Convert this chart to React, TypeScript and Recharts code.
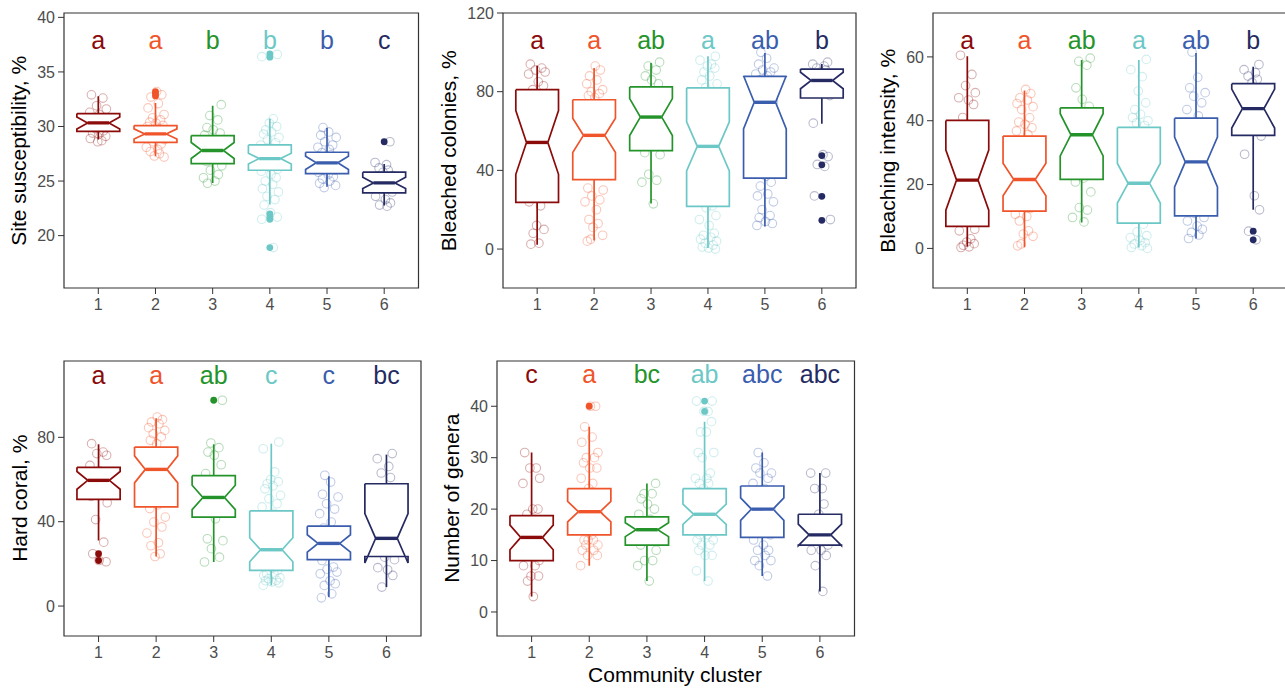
import React from 'react';
import { ComposedChart, Scatter, XAxis, YAxis, ReferenceArea } from 'recharts';

const CLUSTERS = [1, 2, 3, 4, 5, 6];
const COLORS = ['#8B0A0A', '#F0542A', '#24932A', '#6CC8C6', '#3A5DAE', '#252B62'];

// box stats per cluster: [lower whisker, q1, notch low, median, notch high, q3, upper whisker]
const susBox = [
  [28.8, 29.56, 29.78, 30.33, 30.88, 31.18, 32.77],
  [27.27, 28.55, 28.86, 29.32, 29.78, 30.08, 32.16],
  [24.83, 26.6, 27.07, 27.8, 28.53, 29.17, 31.9],
  [22.85, 25.99, 26.57, 27.06, 27.55, 28.31, 30.7],
  [24.47, 25.69, 26.06, 26.67, 27.28, 27.64, 29.87],
  [22.76, 23.92, 24.31, 24.83, 25.35, 25.81, 26.57],
];
const susPoints = [
  [32.9, 32.6, 31.9, 31.6, 31.3, 31.1, 30.8, 30.6, 30.4, 30.2, 30.0, 29.8, 29.6, 29.4, 29.3, 29.1, 28.9, 28.7, 28.6, 30.5],
  [33.2, 32.9, 32.7, 32.1, 31.7, 31.1, 30.8, 30.6, 30.4, 30.3, 30.1, 30.0, 29.8, 29.6, 29.5, 29.3, 29.2, 29.0, 28.8, 28.6, 28.4, 28.1, 27.9, 27.7, 27.5, 27.3, 27.2],
  [32.0, 31.0, 30.6, 29.9, 29.7, 29.4, 29.2, 28.8, 28.4, 28.0, 27.6, 27.2, 26.8, 26.4, 26.0, 25.6, 25.3, 25.0, 24.8],
  [36.6, 36.4, 30.7, 30.3, 30.0, 29.7, 29.5, 29.3, 29.0, 28.8, 28.5, 28.3, 28.0, 27.8, 27.6, 27.4, 27.2, 27.0, 26.8, 26.6, 26.3, 26.1, 25.9, 25.6, 25.3, 25.0, 24.7, 24.3, 24.0, 23.6, 23.3, 22.8, 22.1, 21.7, 21.5, 18.9],
  [29.9, 29.5, 29.2, 29.0, 28.6, 28.3, 28.1, 27.9, 27.6, 27.4, 27.2, 27.0, 26.8, 26.6, 26.4, 26.2, 26.0, 25.8, 25.6, 25.4, 25.2, 25.0, 24.8, 24.6, 24.4],
  [28.6, 26.7, 26.5, 26.2, 26.0, 25.8, 25.5, 25.2, 24.9, 24.6, 24.3, 24.0, 23.6, 23.3, 23.0, 22.8, 22.7],
];
const susOutliers = [[], [33.2, 33.0, 32.8], [], [36.65, 36.35, 22.0, 21.7, 21.5, 18.9], [], [28.6]];
const susLetters = ['a', 'a', 'b', 'b', 'b', 'c'];

const bcBox = [
  [2.2, 23.7, 38.0, 54.2, 70.4, 81.0, 93.2],
  [4.4, 35.3, 49.1, 57.8, 66.5, 75.9, 92.0],
  [23.1, 50.0, 57.7, 67.1, 76.5, 82.4, 94.6],
  [0.5, 21.7, 39.7, 52.2, 64.7, 81.9, 98.0],
  [11.5, 36.1, 61.1, 74.6, 88.1, 87.8, 99.7],
  [63.7, 76.8, 81.5, 85.7, 89.9, 91.5, 94.1],
];
const bcPoints = [
  [94, 92, 91, 90, 89, 85, 83, 81, 75, 68, 60, 54, 47, 40, 33, 26, 24, 22, 12, 10, 8, 3, 2.5],
  [93, 91, 88, 86, 84, 81, 80, 79, 78, 77, 72, 66, 60, 55, 50, 44, 38, 31, 30, 27, 25, 24, 20, 15, 13, 11, 7, 5, 4],
  [95, 93, 91, 88, 86, 84, 80, 74, 68, 62, 56, 52, 49, 48, 38, 35, 34, 23],
  [98, 96, 94, 93, 92, 90, 88, 86, 84, 82, 76, 70, 64, 58, 52, 46, 40, 34, 28, 22, 21, 17, 15, 12, 8, 7, 6, 5, 4, 3, 2, 1, 0.5, 0],
  [100, 97, 94, 92, 91, 90, 89, 88, 86, 83, 79, 75, 71, 66, 60, 54, 48, 42, 37, 34, 32, 28, 27, 24, 20, 17, 16, 14, 13, 12],
  [95, 94, 93, 92, 91, 90, 88, 86, 84, 82, 80, 78, 64, 48, 47, 43, 42, 27, 15],
];
const bcOutliers = [[], [], [], [], [], [47.5, 42.8, 26.8, 14.6]];
const bcLetters = ['a', 'a', 'ab', 'a', 'ab', 'b'];

const biBox = [
  [0.6, 6.9, 12.0, 21.4, 30.8, 40.1, 60.2],
  [0.4, 11.7, 16.5, 21.6, 26.7, 35.2, 49.5],
  [8.1, 21.6, 29.0, 35.6, 42.2, 44.0, 59.0],
  [0.3, 7.9, 14.2, 20.4, 26.6, 37.9, 59.0],
  [3.1, 10.2, 19.3, 27.1, 34.9, 40.8, 61.2],
  [12.1, 35.4, 37.7, 43.8, 49.9, 51.6, 56.9],
];
const biPoints = [
  [60.5, 54.5, 51, 48.8, 47.2, 46.5, 45.1, 41, 36, 30, 25, 21, 17, 13, 9, 6, 5.5, 3, 2, 1.5, 1, 0.5, 0.3],
  [49.8, 48.5, 47.2, 46.5, 45.4, 44.4, 43.5, 40.9, 39.6, 38.9, 37.8, 36.8, 35.7, 33, 30, 27, 24, 21, 18, 15, 12.5, 10.7, 10, 8.6, 5.5, 4.5, 3.8, 1.4, 0.8],
  [59.6, 58.6, 57.4, 50.3, 46.7, 44.5, 42, 38, 34, 30, 26, 22, 20.8, 17.7, 12.8, 12, 9.7, 8.3],
  [59.2, 56, 53.8, 49.3, 45.6, 43.5, 42, 41, 40, 39.3, 38.5, 35, 32, 28, 24, 20, 16, 12, 9, 7.6, 5.2, 4, 3.4, 2.5, 1.8, 1.4, 0.8, 0.3, 0],
  [61.5, 53.6, 50.3, 48.8, 47.7, 45.6, 43.5, 41.5, 38, 34, 30, 26, 22, 18, 14, 11, 9.7, 8.6, 7, 6, 5, 4.2, 3.1],
  [57.6, 56, 55, 54, 53, 52, 50, 47, 44, 40, 37, 35.2, 29.5, 16.5, 12.1, 5.4, 2.7],
];
const biOutliers = [[], [], [], [], [], [5.4, 2.7]];
const biLetters = ['a', 'a', 'ab', 'a', 'ab', 'b'];

const hcBox = [
  [31.1, 50.6, 55.4, 59.6, 63.8, 65.8, 76.7],
  [23.5, 47.0, 58.4, 64.8, 71.2, 75.4, 89.0],
  [20.9, 42.2, 45.7, 51.5, 57.3, 61.8, 76.7],
  [9.8, 16.9, 21.0, 26.7, 32.4, 45.1, 77.0],
  [4.3, 22.0, 25.6, 29.7, 33.8, 37.9, 61.5],
  [9.0, 23.5, 20.4, 32.1, 43.8, 58.0, 71.8],
];
const hcPoints = [
  [77, 73, 72.3, 71.5, 66.7, 64, 61, 58, 55, 52, 49, 41, 30.3, 24.8, 21.6, 21],
  [89.6, 88.4, 87.3, 86.5, 84.6, 83.3, 81.7, 80.2, 78.6, 77, 72, 68, 64, 60, 56, 52, 48, 46.2, 42.2, 39.8, 37.5, 34.6, 30, 28.6, 24.8, 23.5],
  [97.6, 77.3, 75.1, 73, 71.5, 67, 62.8, 58, 54, 50, 46, 41.4, 31.9, 31, 27.2, 23.2, 20.9],
  [77.8, 74.6, 63.6, 60, 59, 58, 57, 55.6, 52.5, 50.9, 48.5, 47, 44, 42, 40, 38, 34, 30, 28, 26, 24, 22, 20, 18, 16.9, 15.3, 15, 14.5, 13.4, 13, 12.2, 12, 11.4, 11, 9.8],
  [62, 58.8, 53, 51.7, 48.5, 46, 43.8, 39.8, 37, 34, 30, 27, 24, 21.6, 18.5, 17.5, 16.1, 15.3, 12, 10.6, 9.8, 5.8, 3.9],
  [72.3, 69.9, 66.2, 63.1, 60.9, 55, 48, 40, 33, 27, 23.2, 22, 18.2, 17.2, 14.5, 9],
];
const hcOutliers = [[24.8, 21.6], [], [97.6], [], [], []];
const hcLetters = ['a', 'a', 'ab', 'c', 'c', 'bc'];

const ngBox = [
  [3, 10, 12.1, 14.5, 16.9, 18.75, 31],
  [9, 15, 17.5, 19.5, 21.5, 24, 36],
  [6, 13, 14.65, 16, 17.35, 18.5, 25],
  [6, 15, 17.05, 19, 20.95, 24, 37],
  [7, 14.5, 17.8, 20, 22.2, 24.5, 31],
  [4, 13, 12.9, 15, 17.1, 19, 27],
];
const ngPoints = [
  [31, 28, 28, 26, 25, 20, 20, 19, 18, 16, 15, 14, 13, 12, 11, 10, 9, 9, 7, 7, 6, 3],
  [40, 40, 36, 34, 33, 31, 30, 30, 29, 28, 28, 26, 25, 24, 23, 22, 21, 20, 19, 18, 17, 16, 15, 14, 14, 14, 13, 13, 12, 12, 11, 11, 9],
  [25, 23, 23, 22, 21, 20, 19, 18, 17, 16, 15, 14, 13, 12, 10, 10, 9, 6],
  [41, 41, 39, 39, 37, 35, 35, 31, 31, 30, 27, 26, 26, 25, 25, 24, 23, 22, 21, 20, 19, 19, 18, 17, 16, 15, 15, 14, 14, 13, 13, 12, 11, 11, 8, 6],
  [31, 29, 28, 27, 27, 26, 25, 24, 23, 22, 21, 20, 19, 18, 17, 16, 15, 14, 13, 12, 12, 11, 10, 10, 9, 7],
  [27, 27, 24, 24, 21, 19, 18, 16, 15, 15, 14, 13, 12, 12, 11, 9, 4],
];
const ngOutliers = [[], [40], [], [41, 39], [], []];
const ngLetters = ['c', 'a', 'bc', 'ab', 'abc', 'abc'];

// horizontal jitter offsets (cluster units), reused in turn
const JITTER = [-0.12, 0.08, -0.03, 0.14, -0.15, 0.02, 0.11, -0.08, 0.05, -0.13, 0.15, -0.05, 0.09, -0.1, 0.01,
  0.13, -0.14, 0.06, -0.01, 0.12, -0.07, 0.03, -0.11, 0.16, -0.04, 0.1, -0.16, 0.04, -0.09, 0.07, -0.02, 0.15, -0.06];

const FONT = '"Liberation Sans", Arial, Helvetica, sans-serif';
const AXW = 60;
const PADT = 12;
const AXH = 40;

const panels = [
  { id: 'sus', title: 'Site susceptibility, %', box: susBox, pts: susPoints, out: susOutliers, letters: susLetters,
    letterY: 37.1, domain: [15.2, 40.4], ticks: [20, 25, 30, 35, 40], x0: 63.5, x1: 418, y0: 13.3, y1: 288.3, tx: 26 },
  { id: 'bc', title: 'Bleached colonies, %', box: bcBox, pts: bcPoints, out: bcOutliers, letters: bcLetters,
    letterY: 101.7, domain: [-19.8, 120], ticks: [0, 40, 80, 120], x0: 503, x1: 856, y0: 13.3, y1: 288.3, tx: 456 },
  { id: 'bi', title: 'Bleaching intensity, %', box: biBox, pts: biPoints, out: biOutliers, letters: biLetters,
    letterY: 62.5, domain: [-12.4, 73.75], ticks: [0, 20, 40, 60], x0: 932.5, x1: 1287, y0: 13.3, y1: 288.3, tx: 895 },
  { id: 'hc', title: 'Hard coral, %', box: hcBox, pts: hcPoints, out: hcOutliers, letters: hcLetters,
    letterY: 105.5, domain: [-14.2, 116.2], ticks: [0, 40, 80], x0: 63.7, x1: 420.7, y0: 360.7, y1: 635.7, tx: 26.7 },
  { id: 'ng', title: 'Number of genera', box: ngBox, pts: ngPoints, out: ngOutliers, letters: ngLetters,
    letterY: 44.5, domain: [-4.67, 48.8], ticks: [0, 10, 20, 30, 40], x0: 496.5, x1: 854, y0: 360.7, y1: 635.7, tx: 459 },
];

const hidden = () => <g />;

function Panel({ cfg }: { cfg: any }) {
  const width = cfg.x1 - cfg.x0 + AXW + 2;
  const height = cfg.y1 - cfg.y0 + PADT + AXH;
  const w = 0.375;
  const nw = 0.1875;

  const jitterLayer: any[] = [];
  const boxLayer: any[] = [];
  const outlierLayer: any[] = [];

  cfg.box.forEach((b: number[], i: number) => {
    const x = CLUSTERS[i];
    const c = COLORS[i];
    const [lo, q1, nl, md, nh, q3, hi] = b;

    const pts = cfg.pts[i].map((v: number, j: number) => ({ x: x + JITTER[(j + i * 5) % JITTER.length], y: v }));
    jitterLayer.push(
      <Scatter key={`pts-${i}`} data={pts} isAnimationActive={false}
        shape={(p: any) => <circle cx={p.cx} cy={p.cy} r={4.3} fill="none" stroke={c} strokeOpacity={0.32} strokeWidth={1.1} />} />
    );

    const poly = [
      { x: x - w, y: q3 }, { x: x - w, y: nh }, { x: x - nw, y: md }, { x: x - w, y: nl }, { x: x - w, y: q1 },
      { x: x + w, y: q1 }, { x: x + w, y: nl }, { x: x + nw, y: md }, { x: x + w, y: nh }, { x: x + w, y: q3 },
      { x: x - w, y: q3 },
    ];
    boxLayer.push(
      <Scatter key={`wu-${i}`} data={[{ x, y: q3 }, { x, y: hi }]} isAnimationActive={false} shape={hidden}
        line={{ stroke: c, strokeWidth: 1.7 }} />,
      <Scatter key={`wl-${i}`} data={[{ x, y: q1 }, { x, y: lo }]} isAnimationActive={false} shape={hidden}
        line={{ stroke: c, strokeWidth: 1.7 }} />,
      <Scatter key={`box-${i}`} data={poly} isAnimationActive={false} shape={hidden}
        line={{ stroke: c, strokeWidth: 1.7, fill: '#ffffff', strokeLinejoin: 'miter' }} />,
      <Scatter key={`med-${i}`} data={[{ x: x - nw, y: md }, { x: x + nw, y: md }]} isAnimationActive={false} shape={hidden}
        line={{ stroke: c, strokeWidth: 3.4 }} />
    );

    const outs = cfg.out[i].map((v: number) => ({ x, y: v }));
    if (outs.length) {
      outlierLayer.push(
        <Scatter key={`out-${i}`} data={outs} isAnimationActive={false}
          shape={(p: any) => <circle cx={p.cx} cy={p.cy} r={3.4} fill={c} />} />
      );
    }
  });

  const letterData = cfg.letters.map((l: string, i: number) => ({ x: CLUSTERS[i], y: cfg.letterY, label: l }));

  return (
    <div style={{ position: 'absolute', left: cfg.x0 - AXW, top: cfg.y0 - PADT }}>
      <ComposedChart width={width} height={height} margin={{ top: PADT, right: 2, bottom: 0, left: 0 }}>
        <XAxis type="number" dataKey="x" domain={[0.4, 6.6]} ticks={CLUSTERS} interval={0} allowDataOverflow
          height={AXH} axisLine={false} tickLine={{ stroke: '#333333' }} tickSize={6} tickMargin={5}
          tick={{ fill: '#4D4D4D', fontSize: 16 }} />
        <YAxis type="number" dataKey="y" domain={cfg.domain} ticks={cfg.ticks} interval={0} allowDataOverflow
          width={AXW} axisLine={false} tickLine={{ stroke: '#333333' }} tickSize={6} tickMargin={3}
          tick={{ fill: '#4D4D4D', fontSize: 16 }} />
        {jitterLayer}
        {boxLayer}
        {outlierLayer}
        <Scatter data={letterData} isAnimationActive={false}
          shape={(p: any) => (
            <text x={p.cx} y={p.cy} textAnchor="middle" fontSize={25} fill={COLORS[p.payload.x - 1]}>{p.payload.label}</text>
          )} />
        <ReferenceArea x1={0.4} x2={6.6} y1={cfg.domain[0]} y2={cfg.domain[1]} fill="none" fillOpacity={0}
          stroke="#333333" strokeWidth={1.2} ifOverflow="visible" />
      </ComposedChart>
    </div>
  );
}

export default function App() {
  return (
    <div style={{ position: 'absolute', left: 0, top: 0, width: 1285, height: 690, overflow: 'hidden', background: '#fff', fontFamily: FONT }}>
      {panels.map((p) => <Panel key={p.id} cfg={p} />)}
      <svg width={1285} height={690} style={{ position: 'absolute', left: 0, top: 0, pointerEvents: 'none' }}>
        {panels.map((p) => (
          <text key={p.id} transform={`translate(${p.tx}, ${(p.y0 + p.y1) / 2}) rotate(-90)`} textAnchor="middle"
            fontSize={21} fill="#000" fontFamily={FONT}>{p.title}</text>
        ))}
        <text x={675} y={682} textAnchor="middle" fontSize={21} fill="#000" fontFamily={FONT}>Community cluster</text>
      </svg>
    </div>
  );
}
